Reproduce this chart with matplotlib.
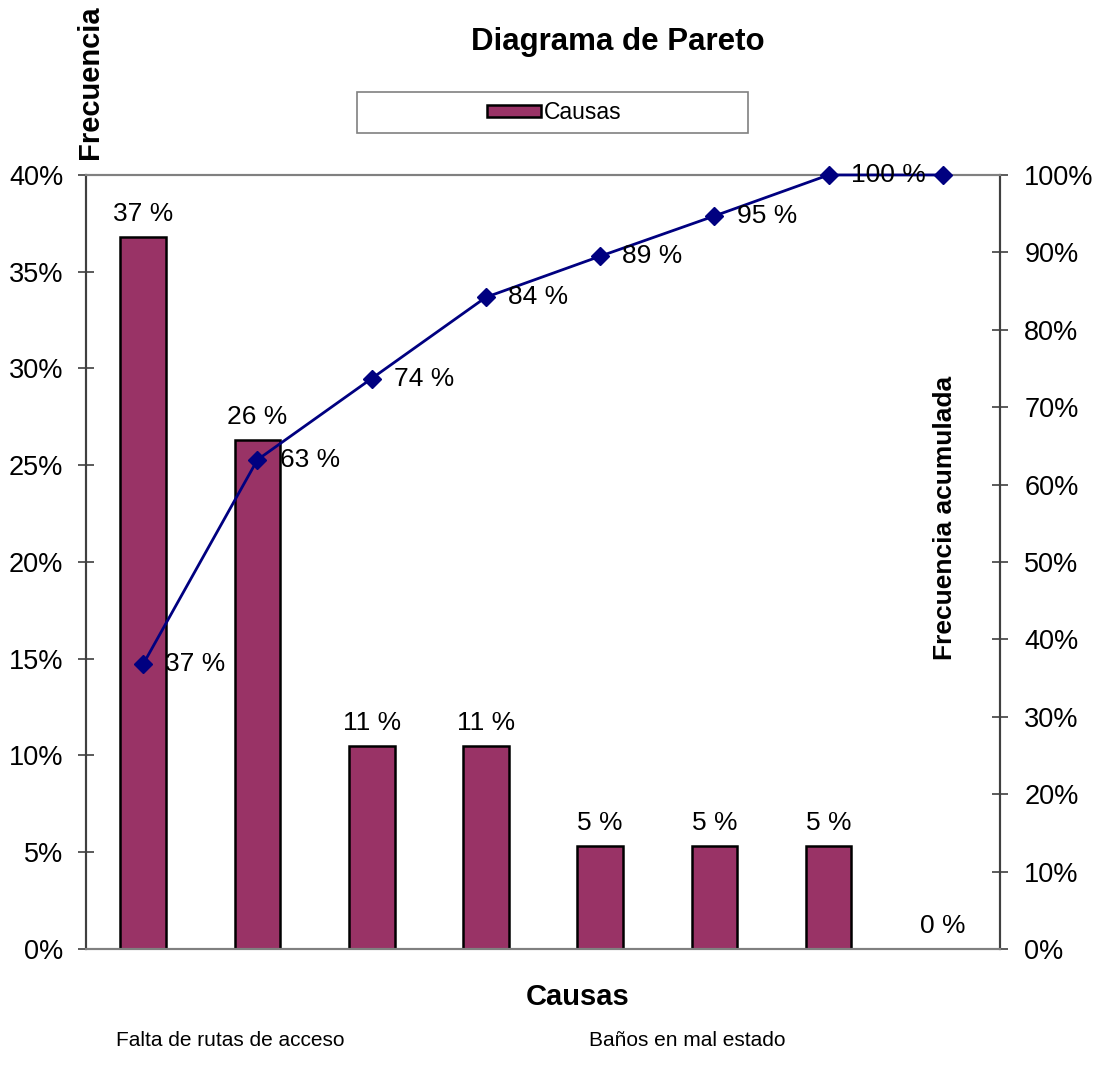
import numpy as np
import matplotlib
matplotlib.use("Agg")
import matplotlib.pyplot as plt
from matplotlib.ticker import PercentFormatter
from matplotlib.patches import Rectangle
import matplotlib.transforms as mtransforms

plt.rcParams['font.family'] = ['Liberation Sans', 'DejaVu Sans']

# datos
causas = ["Falta de rutas de acceso", "Causa 2", "Causa 3", "Causa 4",
          "Baños en mal estado", "Causa 6", "Causa 7", "Causa 8"]
frecuencia = [36.8, 26.3, 10.5, 10.5, 5.3, 5.3, 5.3, 0.0]
acumulada = [36.8, 63.2, 73.7, 84.2, 89.5, 94.7, 100.0, 100.0]
etiquetas_bar = ["37 %", "26 %", "11 %", "11 %", "5 %", "5 %", "5 %", "0 %"]
etiquetas_acum = ["37 %", "63 %", "74 %", "84 %", "89 %", "95 %", "100 %", ""]
causas_visibles = [0, 4]

fig = plt.figure(figsize=(10.99, 10.78), dpi=100)
ax = fig.add_axes([0.0783, 0.1197, 0.8316, 0.7180])
x = np.arange(len(causas))

barras = ax.bar(x, frecuencia, width=0.4, color='#993366', edgecolor='black',
                linewidth=1.8, label='Causas', zorder=2)
ax.set_xlim(-0.5, len(causas) - 0.5)
ax.set_ylim(0, 40)
ax.set_yticks(np.arange(0, 41, 5))
ax.yaxis.set_major_formatter(PercentFormatter(decimals=0))
ax.set_xticks([])
ax.tick_params(axis='y', direction='inout', length=11, width=1.2,
               labelsize=19.5, pad=11, color='#404040')

for xi, v, t in zip(x, frecuencia, etiquetas_bar):
    ax.annotate(t, (xi, v), xytext=(0, 8), textcoords='offset points',
                ha='center', va='bottom', fontsize=19)

ax2 = ax.twinx()
ax2.plot(x, acumulada, color='#000080', marker='D', markersize=9,
         linewidth=2, zorder=3, clip_on=False)
ax2.set_ylim(0, 100)
ax2.set_yticks(np.arange(0, 101, 10))
ax2.yaxis.set_major_formatter(PercentFormatter(decimals=0))
ax2.tick_params(axis='y', direction='inout', length=11, width=1.2,
                labelsize=19.5, pad=12, color='#404040')
for xi, v, t in zip(x, acumulada, etiquetas_acum):
    ax2.annotate(t, (xi, v), xytext=(16, 0), textcoords='offset points',
                 ha='left', va='center', fontsize=19)

for a in (ax, ax2):
    a.spines['top'].set_color('#808080')
    a.spines['bottom'].set_color('#808080')
    a.spines['left'].set_color('#404040')
    a.spines['right'].set_color('#404040')
    for s in a.spines.values():
        s.set_linewidth(1.5)

# etiquetas de categoria (solo algunas visibles)
trans = mtransforms.blended_transform_factory(ax.transData, fig.transFigure)
for i in causas_visibles:
    ax.text(x[i] + 0.76, 0.035, causas[i], transform=trans, ha='center',
            va='center', fontsize=15)

fig.text(0.526, 0.075, "Causas", ha='center', va='center', fontsize=21,
         fontweight='bold')
fig.text(0.562, 0.961, "Diagrama de Pareto", ha='center', va='center',
         fontsize=22.5, fontweight='bold')
fig.text(0.082, 0.924, "Frecuencia", ha='center', va='center', rotation=90,
         fontsize=21, fontweight='bold')
fig.text(0.860, 0.520, "Frecuencia acumulada", ha='center', va='center',
         rotation=90, fontsize=19, fontweight='bold')

# recuadro de la leyenda
fig.patches.append(Rectangle((0.3248, 0.8766), 0.3558, 0.038,
                             transform=fig.transFigure, facecolor='white',
                             edgecolor='#808080', linewidth=1.2))
leg = fig.legend(handles=[barras], labels=['Causas'], loc='center',
                 bbox_to_anchor=(0.5045, 0.8956), frameon=False,
                 fontsize=16.5, handlelength=2.35, handleheight=0.48,
                 borderpad=0.0, handletextpad=0.15)

fig.savefig("out.png", dpi=100)
